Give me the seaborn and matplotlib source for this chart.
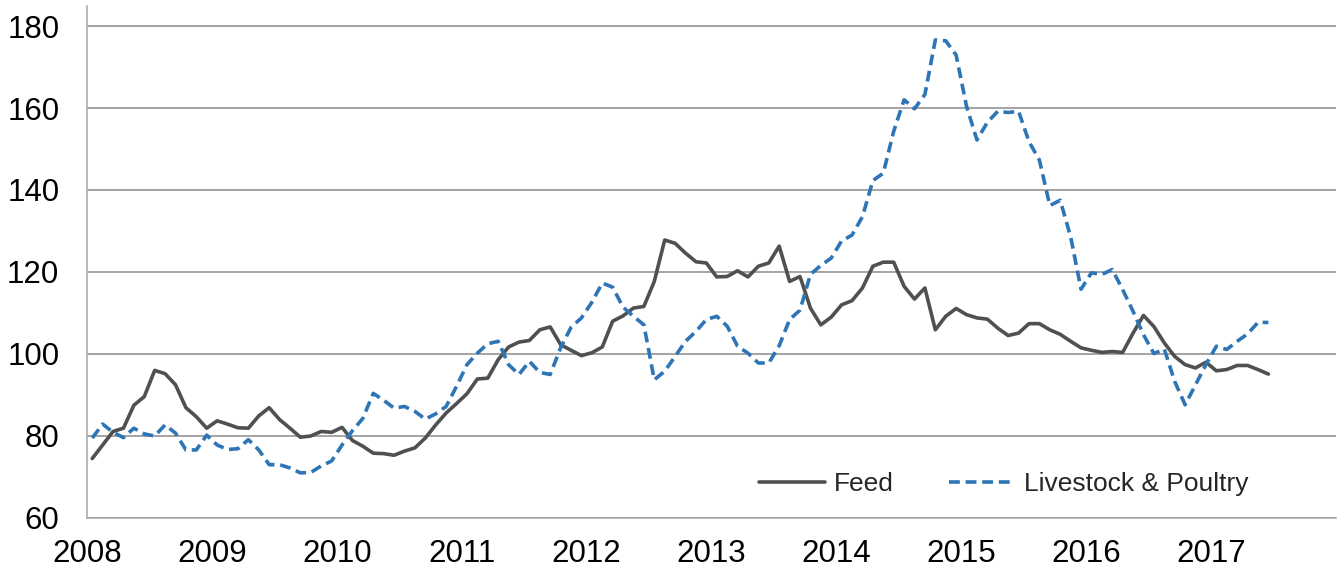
import numpy as np
import pandas as pd
import seaborn as sns
import matplotlib.pyplot as plt

# monthly index values, Jan 2008 - Jun 2017
feed = [74.5, 77.8, 81.1, 81.9, 87.5, 89.6, 96.0, 95.2, 92.5, 86.9, 84.7, 81.9,
        83.7, 82.9, 82.0, 81.9, 84.9, 86.9, 84.0, 81.9, 79.7, 80.0, 81.1, 80.9,
        82.1, 78.9, 77.5, 75.8, 75.7, 75.3, 76.3, 77.1, 79.5, 82.7, 85.6, 87.9,
        90.3, 93.9, 94.1, 98.6, 101.7, 102.9, 103.3, 105.9, 106.6, 102.3, 100.9, 99.6,
        100.3, 101.7, 108.0, 109.3, 111.2, 111.6, 117.7, 127.8, 127.0, 124.6, 122.5, 122.2,
        118.8, 118.9, 120.3, 118.8, 121.4, 122.2, 126.3, 117.7, 118.9, 111.2, 107.1, 109.0,
        112.0, 113.0, 116.1, 121.4, 122.4, 122.4, 116.5, 113.4, 116.1, 105.9, 109.2, 111.1,
        109.6, 108.8, 108.5, 106.3, 104.5, 105.1, 107.4, 107.4, 105.9, 104.8, 103.1, 101.5,
        100.9, 100.4, 100.6, 100.4, 105.1, 109.4, 106.7, 102.7, 99.4, 97.4, 96.6, 98.0,
        95.9, 96.2, 97.2, 97.2, 96.2, 95.1]

livestock = [79.5, 82.9, 80.9, 79.6, 81.9, 80.5, 80.0, 82.7, 80.7, 76.6, 76.6, 80.2,
             77.8, 76.7, 76.9, 79.1, 76.6, 73.0, 73.0, 72.2, 71.0, 71.1, 72.7, 73.9,
             77.8, 81.3, 84.3, 90.4, 88.7, 86.8, 87.2, 86.0, 84.1, 85.4, 87.2, 92.1,
             97.4, 100.2, 102.5, 103.1, 97.4, 95.0, 98.2, 95.5, 95.0, 101.5, 106.5, 108.8,
             112.6, 117.3, 116.3, 111.4, 109.2, 107.1, 93.7, 95.8, 99.4, 103.1, 105.5, 108.4,
             109.2, 106.8, 101.9, 100.2, 97.8, 97.8, 102.0, 108.4, 110.7, 119.4, 121.6, 123.4,
             127.6, 129.0, 133.5, 142.3, 144.1, 154.3, 162.0, 159.8, 163.3, 176.6, 176.4, 172.9,
             160.4, 152.2, 156.5, 159.2, 158.9, 159.2, 151.8, 147.3, 136.2, 137.5, 128.6, 115.8,
             119.8, 119.4, 120.6, 115.7, 110.4, 104.7, 100.1, 101.2, 93.3, 87.6, 92.5, 97.4,
             101.9, 101.1, 103.1, 104.9, 107.7, 107.7]

series_names = ["Feed", "Livestock & Poultry"]
year_ticks = list(range(2008, 2019))
year_labels = [str(y) for y in range(2008, 2018)] + [""]
y_ticks = [60, 80, 100, 120, 140, 160, 180]

n = len(feed)
t = 2008 + (np.arange(n) + 0.5) / 12.0
df = pd.DataFrame({
    "t": np.concatenate([t, t]),
    "value": feed + livestock,
    "series": [series_names[0]] * n + [series_names[1]] * n,
})

sns.set_style("white")
plt.rcParams["font.family"] = ["Liberation Sans", "DejaVu Sans"]

fig = plt.figure(figsize=(13.41, 5.74), dpi=100)
ax = fig.add_axes([0.0649, 0.0976, 0.9963 - 0.0649, 0.9904 - 0.0976])

sns.lineplot(data=df, x="t", y="value", hue="series", style="series",
             palette={"Feed": "#505050", "Livestock & Poultry": "#2E75B6"},
             dashes={"Feed": "", "Livestock & Poultry": (3.0, 1.6)},
             linewidth=2.6, ax=ax)

ax.set_xlim(2008, 2018)
ax.set_ylim(60, 185)
ax.set_xticks(year_ticks)
ax.set_xticklabels(year_labels)
ax.set_yticks(y_ticks)
ax.set_xlabel("")
ax.set_ylabel("")

ax.yaxis.grid(True, color="#8C8C8C", linewidth=1.1)
ax.xaxis.grid(False)
for side in ["top", "right"]:
    ax.spines[side].set_visible(False)
for side in ["left", "bottom"]:
    ax.spines[side].set_color("#A6A6A6")
    ax.spines[side].set_linewidth(1.1)

ax.tick_params(axis="both", which="major", direction="out", length=7,
               width=1.1, color="#A6A6A6", labelsize=22.5, labelcolor="black")
ax.tick_params(axis="y", pad=13)
ax.tick_params(axis="x", pad=8)

handles, labels = ax.get_legend_handles_labels()
leg = ax.legend(handles, labels, ncol=2, frameon=False, loc="center",
                bbox_to_anchor=(0.734, 0.066), fontsize=19,
                handlelength=2.5, handletextpad=0.35, columnspacing=2.1)

fig.savefig("out.png", dpi=100)
